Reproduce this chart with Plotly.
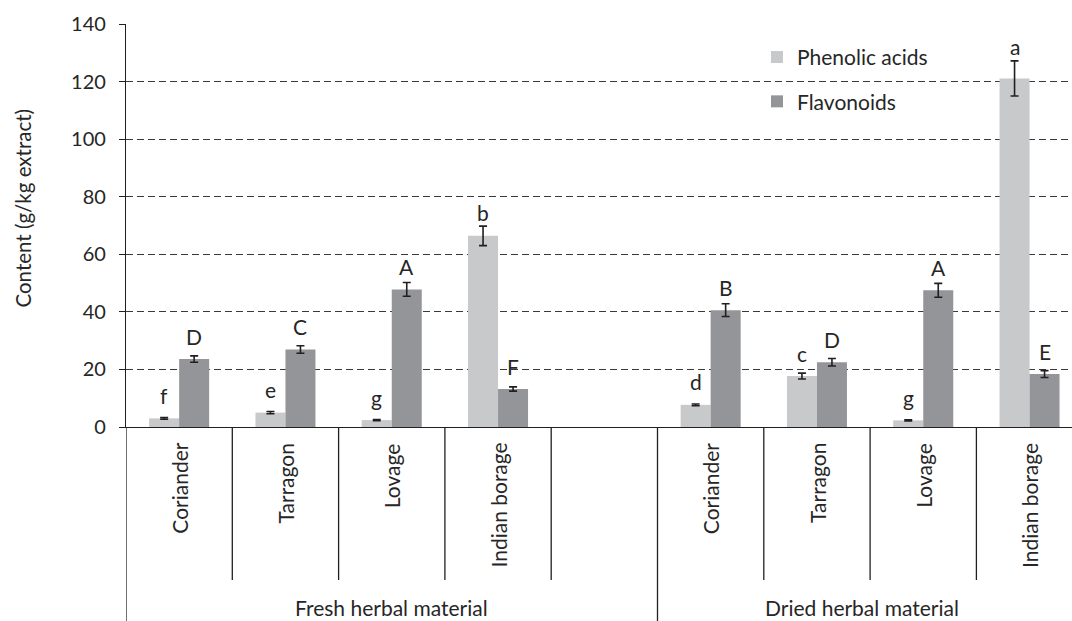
import plotly.graph_objects as go

# --- data -------------------------------------------------------------
herbs = ["Coriander", "Tarragon", "Lovage", "Indian borage"]
materials = ["Fresh herbal material", "Dried herbal material"]

phenolic_fresh = [3.0, 5.0, 2.4, 66.4]
phenolic_fresh_sd = [0.3, 0.4, 0.2, 3.4]
phenolic_dried = [7.7, 17.7, 2.3, 121.1]
phenolic_dried_sd = [0.3, 1.0, 0.2, 6.1]

flavonoid_fresh = [23.6, 26.9, 47.8, 13.2]
flavonoid_fresh_sd = [1.1, 1.3, 2.4, 0.75]
flavonoid_dried = [40.6, 22.5, 47.5, 18.4]
flavonoid_dried_sd = [2.2, 1.3, 2.4, 1.2]

phenolic_letters = ["f", "e", "g", "b", "d", "c", "g", "a"]
flavonoid_letters = ["D", "C", "A", "F", "B", "D", "A", "E"]

y_ticks = [0, 20, 40, 60, 80, 100, 120, 140]

# --- category layout: fresh herbs, one empty slot, dried herbs ---------
fresh_cats = [f"fresh|{h}" for h in herbs]
dried_cats = [f"dried|{h}" for h in herbs]
spacer = "spacer"
cat_order = fresh_cats + [spacer] + dried_cats

cats = fresh_cats + dried_cats
phenolic = phenolic_fresh + phenolic_dried
phenolic_sd = phenolic_fresh_sd + phenolic_dried_sd
flavonoid = flavonoid_fresh + flavonoid_dried
flavonoid_sd = flavonoid_fresh_sd + flavonoid_dried_sd

FONT = "Lato"
TXT = "#262626"
LIGHT = "#c8c9cb"
DARK = "#939598"

err_style = dict(type="data", visible=True, color="#231f20", thickness=1.6, width=4)

fig = go.Figure()
fig.add_trace(go.Bar(
    name="Phenolic acids", x=cats, y=phenolic, marker_color=LIGHT,
    marker_line_width=0, legendgroup="p",
    error_y=dict(array=phenolic_sd, **err_style),
))
fig.add_trace(go.Bar(
    name="Flavonoids", x=cats, y=flavonoid, marker_color=DARK,
    marker_line_width=0, legendgroup="f",
    error_y=dict(array=flavonoid_sd, **err_style),
))

W, H = 1072, 621
L, R, T, B = 126, 0, 24, 194
plot_h = H - T - B
px_per_unit = plot_h / 140
n_slots = len(cat_order)
slot_px = 106.3
x_end = -0.5 + (W - L - R) / slot_px

BARGAP = 0.4356
half_bar = (1 - BARGAP) / 4  # centre offset of each bar within its slot

annotations = []


def letter(xpos, value, sd, s):
    # sit above the bar top, and clear of the error bar cap
    shift = max(23, sd * px_per_unit + 14)
    return dict(x=xpos, y=value, xref="x", yref="y", text=s,
                showarrow=False, yanchor="middle", yshift=shift,
                font=dict(size=21, color=TXT, family=FONT))


for c, v, sd, s in zip(cats, phenolic, phenolic_sd, phenolic_letters):
    annotations.append(letter(cat_order.index(c) - half_bar, v, sd, s))
for c, v, sd, s in zip(cats, flavonoid, flavonoid_sd, flavonoid_letters):
    annotations.append(letter(cat_order.index(c) + half_bar, v, sd, s))

# rotated herb names under the axis
for c in cats:
    i = cat_order.index(c)
    annotations.append(dict(x=i, y=-14 / plot_h, xref="x", yref="paper",
                            text=c.split("|")[1], textangle=-90, showarrow=False,
                            xanchor="center", yanchor="top",
                            font=dict(size=21, color=TXT, family=FONT)))

# group names
annotations.append(dict(x=(-0.5 + 4.5) / 2, y=-180 / plot_h, xref="x", yref="paper",
                        text=materials[0], showarrow=False, yanchor="middle",
                        font=dict(size=21, color=TXT, family=FONT)))
annotations.append(dict(x=6.42, y=-180 / plot_h, xref="x", yref="paper",
                        text=materials[1], showarrow=False, yanchor="middle",
                        font=dict(size=21, color=TXT, family=FONT)))

# y-axis title
annotations.append(dict(x=-104 / (W - L - R), y=(427 - 208.5) / plot_h,
                        xref="paper", yref="paper", xanchor="center", yanchor="middle",
                        text="Content (g/kg extract)", textangle=-90, showarrow=False,
                        font=dict(size=20.5, color=TXT, family=FONT)))

# category separators below the axis
shapes = []
line_col = "#231f20"
for k in range(n_slots):
    xb = k - 0.5
    long_line = k in (0, 5)
    y1 = -(H - T - plot_h) / plot_h if long_line else -153 / plot_h
    shapes.append(dict(type="line", xref="x", yref="paper", x0=xb, x1=xb,
                       y0=0, y1=y1, line=dict(color=line_col, width=1.3)))

fig.update_layout(
    width=W, height=H,
    margin=dict(l=L, r=R, t=T, b=B, autoexpand=False),
    paper_bgcolor="white", plot_bgcolor="white",
    barmode="group", bargap=BARGAP, bargroupgap=0,
    font=dict(family=FONT, color=TXT, size=20),
    showlegend=True,
    legend=dict(x=0.667, y=0.968, xanchor="left", yanchor="top",
                bgcolor="rgba(0,0,0,0)", font=dict(size=21, color=TXT, family=FONT),
                traceorder="grouped", tracegroupgap=14, itemwidth=30),
    annotations=annotations,
    shapes=shapes,
    xaxis=dict(type="category", categoryorder="array", categoryarray=cat_order,
               range=[-0.5, x_end], showticklabels=False, ticks="",
               showgrid=False, showline=True, linecolor=line_col, linewidth=1.3,
               zeroline=False),
    yaxis=dict(range=[0, 140], tickvals=y_ticks, showgrid=True,
               gridcolor="#3a3a3a", gridwidth=1, griddash="7px,4px",
               showline=True, linecolor=line_col, linewidth=1.3,
               ticks="outside", ticklen=6, tickcolor=line_col, tickwidth=1.3,
               ticklabelstandoff=9, zeroline=False,
               tickfont=dict(size=20, color=TXT, family=FONT)),
)

fig.write_html("out.html")
